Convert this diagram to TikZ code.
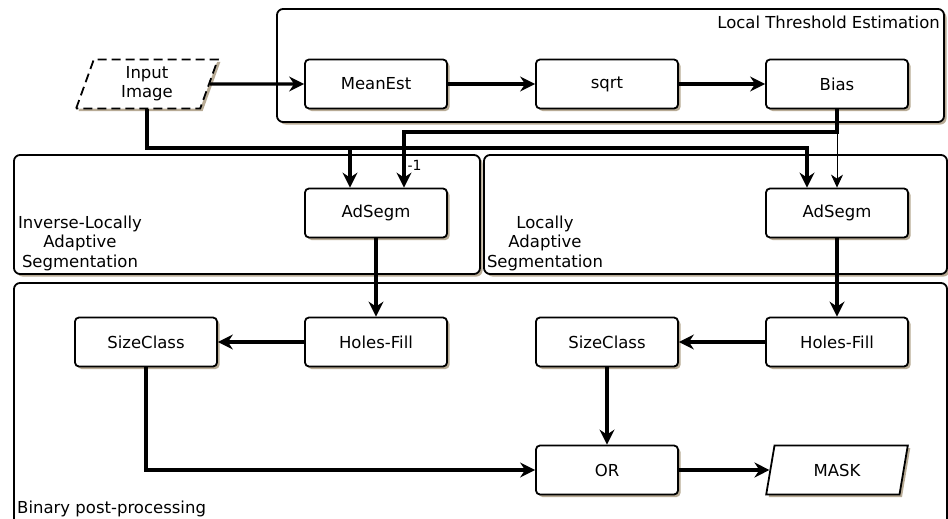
\documentclass[tikz,border=0pt]{standalone}
\usepackage{fontspec}
\setmainfont{DejaVu Sans}
\usetikzlibrary{arrows.meta,shapes.geometric,shadows}
\definecolor{shade}{RGB}{184,171,149}

\tikzset{
  shd/.style={drop shadow={shadow xshift=2.5pt, shadow yshift=-2.5pt, fill=shade, opacity=1}},
  blk/.style={draw, rounded corners=4pt, line width=1.8pt, fill=white, shd,
    minimum width=142pt, minimum height=49pt, inner sep=0pt, font=\fontsize{16.5}{19}\selectfont},
  io/.style={blk, trapezium, rounded corners=0pt, trapezium left angle=76, trapezium right angle=104,
    trapezium stretches=true, align=center},
  grp/.style={draw, rounded corners=6pt, line width=1.8pt, shd},
  flow/.style={line width=3.2pt, -{Stealth[length=15pt, width=15pt, inset=5pt]}},
  thinflow/.style={line width=0.8pt, -{Stealth[length=13pt, width=12pt, inset=4pt]}},
  lbl/.style={font=\fontsize{16.5}{19.5}\selectfont, align=center, inner sep=0pt}
}

\begin{document}
\begin{tikzpicture}[x=1pt, y=-1pt]
\useasboundingbox (0,0) rectangle (948,519);

% group frames
\draw[grp, fill=white] (277,9) rectangle (944,122);
\draw[grp, fill=white] (14,155) rectangle (480,274);
\draw[grp, fill=white] (484,155) rectangle (947,274);
\draw[grp, fill=white] (14,283) rectangle (947,540);

\node[lbl, anchor=east] (tlte) at (940,22) {Local Threshold Estimation};
\node[lbl] (tinv) at (80,243) {Inverse-Locally\\Adaptive\\Segmentation};
\node[lbl] (tloc) at (545,243) {Locally\\Adaptive\\Segmentation};
\node[lbl, anchor=west] (tbin) at (17,509) {Binary post-processing};

% blocks
\node[io, dashed, dash pattern=on 9pt off 5pt] (in) at (147,84) {Input\\Image};
\node[blk] (mean) at (376,84) {MeanEst};
\node[blk] (sqrt) at (607,84) {sqrt};
\node[blk] (bias) at (837,84) {Bias};

\node[blk] (adl) at (376,213) {AdSegm};
\node[blk] (adr) at (837,213) {AdSegm};

\node[blk] (hfl) at (376,342) {Holes-Fill};
\node[blk] (scl) at (146,342) {SizeClass};
\node[blk] (hfr) at (837,342) {Holes-Fill};
\node[blk] (scr) at (607,342) {SizeClass};

\node[blk] (or) at (607,470) {OR};
\node[io] (mask) at (837,470) {MASK};

% junctions
\coordinate (c1) at (350,148);
\coordinate (c2) at (404,132);

% connectors
\draw[flow] (in) -- (mean);
\draw[flow] (mean) -- (sqrt);
\draw[flow] (sqrt) -- (bias);

\draw[flow] (in) |- (c1) -- (c1 |- adl.north);
\draw[flow] (c1) -| ([xshift=-30pt]adr.north);
\draw[flow] (bias) |- (c2) -- (c2 |- adl.north)
  node[pos=0.6, right, inner sep=2pt, font=\fontsize{14}{16}\selectfont] (inv) {-1};
\draw[thinflow] (bias) -- (adr);

\draw[flow] (adl) -- (hfl);
\draw[flow] (hfl) -- (scl);
\draw[flow] (adr) -- (hfr);
\draw[flow] (hfr) -- (scr);
\draw[flow] (scr) -- (or);
\draw[flow] (scl) |- (or);
\draw[flow] (or) -- (mask);
\end{tikzpicture}
\end{document}
